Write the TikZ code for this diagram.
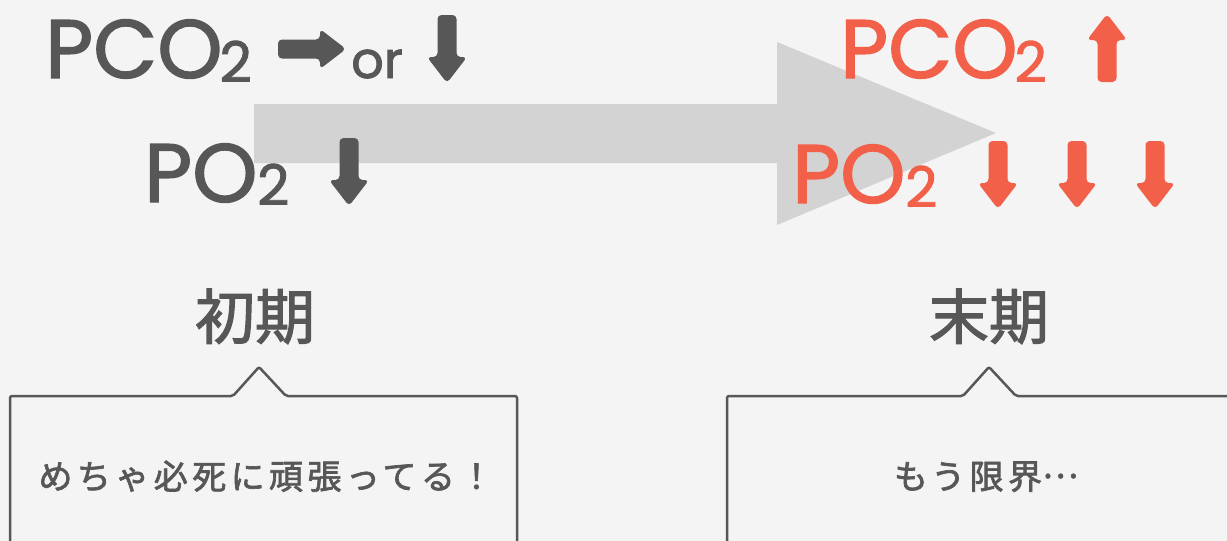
\documentclass[tikz,border=0pt]{standalone}
\usepackage{fontspec}
\setmainfont{Poppins}[FakeBold=1.6]
\newfontfamily\jptitle{Noto Sans CJK JP}[FakeBold=1.9]
\newfontfamily\jpbody{Noto Sans CJK JP}[LetterSpace=13,FakeBold=2]
\definecolor{paper}{HTML}{F3F4F3}
\definecolor{ink}{HTML}{575757}
\definecolor{alert}{HTML}{F26049}
\definecolor{flow}{HTML}{D3D3D3}
\newcommand\subtwo[1]{{\kern#1\fontsize{56}{56}\selectfont\raisebox{-4pt}{2}}}
\tikzset{
  gas/.style={inner sep=0pt, anchor=base west, font=\fontsize{83}{83}\selectfont},
  sub/.style={inner sep=0pt, anchor=base west, font=\fontsize{56}{56}\selectfont},
  title/.style={inner sep=0pt, anchor=base, text=ink, font=\jptitle\fontsize{60}{60}\selectfont},
  saying/.style={inner sep=0pt, anchor=base, text=ink, font=\jpbody\fontsize{34}{34}\selectfont},
  callout/.style={draw=ink, line width=2.5pt, fill=paper, rounded corners=2pt, line join=round},
  blockarrow/.pic={
    \fill[pic actions, rounded corners=4pt]
      (-9.5,0) -- (9.5,0) -- (9.5,42) -- (20,42) -- (0,68) -- (-20,42) -- (-9.5,42) -- cycle;
  }
}
\begin{document}
\begin{tikzpicture}[x=1pt,y=-1pt]
\useasboundingbox (0,0) rectangle (1227,541);
\fill[paper] (0,0) rectangle (1227,541);

% wide flow arrow from early to late stage
\fill[flow] (254,104) -- (777,104) -- (777,42) -- (996,133) -- (777,225) -- (777,163) -- (254,163) -- cycle;

% early stage gases
\node[gas, text=ink] (pcoA) at (45,78) {PCO\subtwo{-3pt}};
\pic[fill=ink, rotate=90] at (278,49) {blockarrow};
\node[inner sep=0pt, anchor=base west, text=ink, font=\fontsize{51}{51}\selectfont] (or) at (351,78) {or};
\pic[fill=ink] at (447,15) {blockarrow};
\node[gas, text=ink] (poA) at (144,202) {PO};
\node[sub, text=ink] (poAsub) at (257,205) {2};
\pic[fill=ink] at (349,138) {blockarrow};

% late stage gases
\node[gas, text=alert] (pcoB) at (840,78) {PCO\subtwo{-3pt}};
\pic[fill=alert, rotate=180] at (1107,82) {blockarrow};
\node[gas, text=alert] (poB) at (792,203) {PO};
\node[sub, text=alert] (poBsub) at (905,207) {2};
\pic[fill=alert] at (998,141) {blockarrow};
\pic[fill=alert] at (1077,141) {blockarrow};
\pic[fill=alert] at (1155,141) {blockarrow};

% stage titles
\node[title] (early) at (255,339) {初期};
\node[title] (late) at (989,339) {末期};

% speech boxes
\draw[callout] (10,550) -- (10,396) -- (233,396) -- (259,367) -- (286,396) -- (517,396) -- (517,550);
\draw[callout] (727,550) -- (727,396) -- (963,396) -- (989,367) -- (1016,396) -- (1240,396);
\node[saying] (earlytext) at (266,489) {めちゃ必死に頑張ってる！};
\node[saying] (latetext) at (986,489) {もう限界\raisebox{11pt}{…}};
\end{tikzpicture}
\end{document}
